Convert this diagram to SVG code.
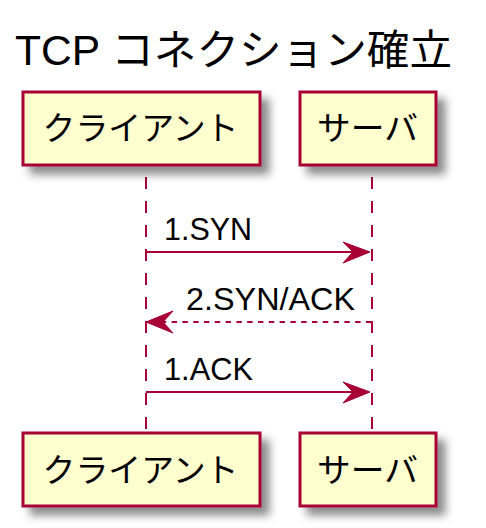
<svg xmlns="http://www.w3.org/2000/svg" width="486" height="528" viewBox="0 0 486 528">
<defs>
<filter id="sh" x="-20%" y="-20%" width="150%" height="160%">
<feGaussianBlur in="SourceAlpha" stdDeviation="4"/>
<feOffset dx="8" dy="8" result="b"/>
<feFlood flood-color="#000" flood-opacity="0.45"/>
<feComposite in2="b" operator="in"/>
<feMerge><feMergeNode/><feMergeNode in="SourceGraphic"/></feMerge>
</filter>
</defs>
<style>
text{font-family:"Liberation Sans","Noto Sans CJK JP",sans-serif;fill:#000}
.box{fill:#FEFECE;stroke:#A80036;stroke-width:3}
.life{stroke:#A80036;stroke-width:2;stroke-dasharray:12,12;fill:none}
.msg{stroke:#A80036;stroke-width:2;fill:none}
.dot{stroke-dasharray:5.4,5.4}
.head{fill:#A80036;stroke:#A80036;stroke-width:1}
.pt{font-size:33px;text-anchor:middle}
.mt{font-size:31px}
</style>
<rect width="486" height="528" fill="#fff"/>
<text x="15" y="65" font-size="42" textLength="437" lengthAdjust="spacingAndGlyphs">TCP コネクション確立</text>
<g id="lifelines">
<line class="life" x1="146" y1="177" x2="146" y2="432"/>
<line class="life" x1="372" y1="177" x2="372" y2="432"/>
</g>
<g id="client-top">
<rect class="box" x="23" y="92" width="237" height="73" filter="url(#sh)"/>
<text class="pt" x="140.5" y="140" textLength="196" lengthAdjust="spacingAndGlyphs">クライアント</text>
</g>
<g id="server-top">
<rect class="box" x="300" y="92" width="136" height="73" filter="url(#sh)"/>
<text class="pt" x="367.5" y="140" textLength="101" lengthAdjust="spacingAndGlyphs">サーバ</text>
</g>
<g id="client-bottom">
<rect class="box" x="23" y="433" width="237" height="73" filter="url(#sh)"/>
<text class="pt" x="140.5" y="482" textLength="196" lengthAdjust="spacingAndGlyphs">クライアント</text>
</g>
<g id="server-bottom">
<rect class="box" x="300" y="433" width="136" height="73" filter="url(#sh)"/>
<text class="pt" x="367.5" y="482" textLength="101" lengthAdjust="spacingAndGlyphs">サーバ</text>
</g>
<g id="connectors">
<line class="msg" x1="146" y1="252" x2="366" y2="252"/>
<polygon class="head" points="343,242 370,252 343,263 353,252"/>
<text class="mt" x="164" y="240" textLength="88" lengthAdjust="spacingAndGlyphs">1.SYN</text>
<line class="msg dot" x1="150" y1="322" x2="371" y2="322"/>
<polygon class="head" points="173,311 146,322 173,333 163,322"/>
<text class="mt" x="186" y="310" textLength="169" lengthAdjust="spacingAndGlyphs">2.SYN/ACK</text>
<line class="msg" x1="146" y1="392" x2="366" y2="392"/>
<polygon class="head" points="343,382 370,392 343,403 353,392"/>
<text class="mt" x="164" y="380" textLength="89" lengthAdjust="spacingAndGlyphs">1.ACK</text>
</g>
</svg>
